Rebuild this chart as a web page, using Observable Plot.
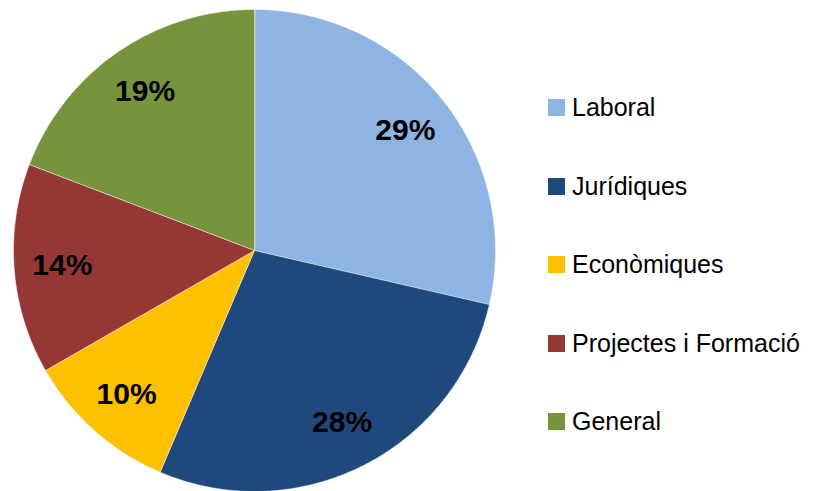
<!DOCTYPE html>
<html>
<head>
<meta charset="utf-8">
<script src="https://cdn.jsdelivr.net/npm/d3@7"></script>
<script src="https://cdn.jsdelivr.net/npm/@observablehq/plot@0.6"></script>
<style>
  html, body { margin: 0; padding: 0; background: #fff; }
  #wrap { position: relative; width: 817px; height: 491px; font-family: "Liberation Sans", Arial, sans-serif; }
  #legend { position: absolute; left: 548px; top: 68.5px; }
  .item { display: flex; align-items: center; height: 78.5px; font-size: 25px; color: #000; }
  .sw { width: 17px; height: 17px; margin-right: 7px; flex: none; }
</style>
</head>
<body>
<div id="wrap"><div id="chart"></div><div id="legend"></div></div>
<script>
const categories = ["Laboral", "Jurídiques", "Econòmiques", "Projectes i Formació", "General"];
const values = [28.6, 27.8, 10.3, 14.1, 19.2];
const colors = ["#8EB4E3", "#1F497D", "#FFC000", "#953735", "#77933C"];

const rows = categories.map((c, i) => ({category: c, value: values[i]}));
const total = d3.sum(values);
const arcs = d3.pie().sort(null).value(d => d.value).startAngle(0).endAngle(2 * Math.PI)(rows);

// slice outlines in unit-radius data space (angle clockwise from top)
const pts = [];
arcs.forEach(a => {
  const n = Math.max(2, Math.ceil((a.endAngle - a.startAngle) / 0.01));
  pts.push({category: a.data.category, x: 0, y: 0});
  for (let k = 0; k <= n; k++) {
    const t = a.startAngle + (a.endAngle - a.startAngle) * k / n;
    pts.push({category: a.data.category, x: Math.sin(t), y: Math.cos(t)});
  }
});
const labels = arcs.map(a => {
  const m = (a.startAngle + a.endAngle) / 2;
  return {x: 0.8 * Math.sin(m), y: 0.8 * Math.cos(m), text: Math.round(a.data.value / total * 100) + "%"};
});

const W = 817, H = 491, cx = 254, cy = 250, R = 241;
const chart = Plot.plot({
  width: W, height: H,
  margin: 0,
  x: {domain: [-cx / R, (W - cx) / R], axis: null},
  y: {domain: [-(H - cy) / R, cy / R], axis: null},
  color: {domain: categories, range: colors},
  marks: [
    Plot.line(pts, {x: "x", y: "y", z: "category", fill: "category", stroke: "white", strokeWidth: 0.5, curve: "linear-closed"}),
    Plot.text(labels, {x: "x", y: "y", text: "text", fontSize: 30, fontWeight: "bold", fill: "black", fontFamily: "Liberation Sans, Arial, sans-serif"})
  ]
});
document.getElementById("chart").appendChild(chart);

const legend = document.getElementById("legend");
categories.forEach((c, i) => {
  const it = document.createElement("div");
  it.className = "item";
  it.innerHTML = `<span class="sw" style="background:${colors[i]}"></span><span>${c}</span>`;
  legend.appendChild(it);
});
</script>
</body>
</html>
